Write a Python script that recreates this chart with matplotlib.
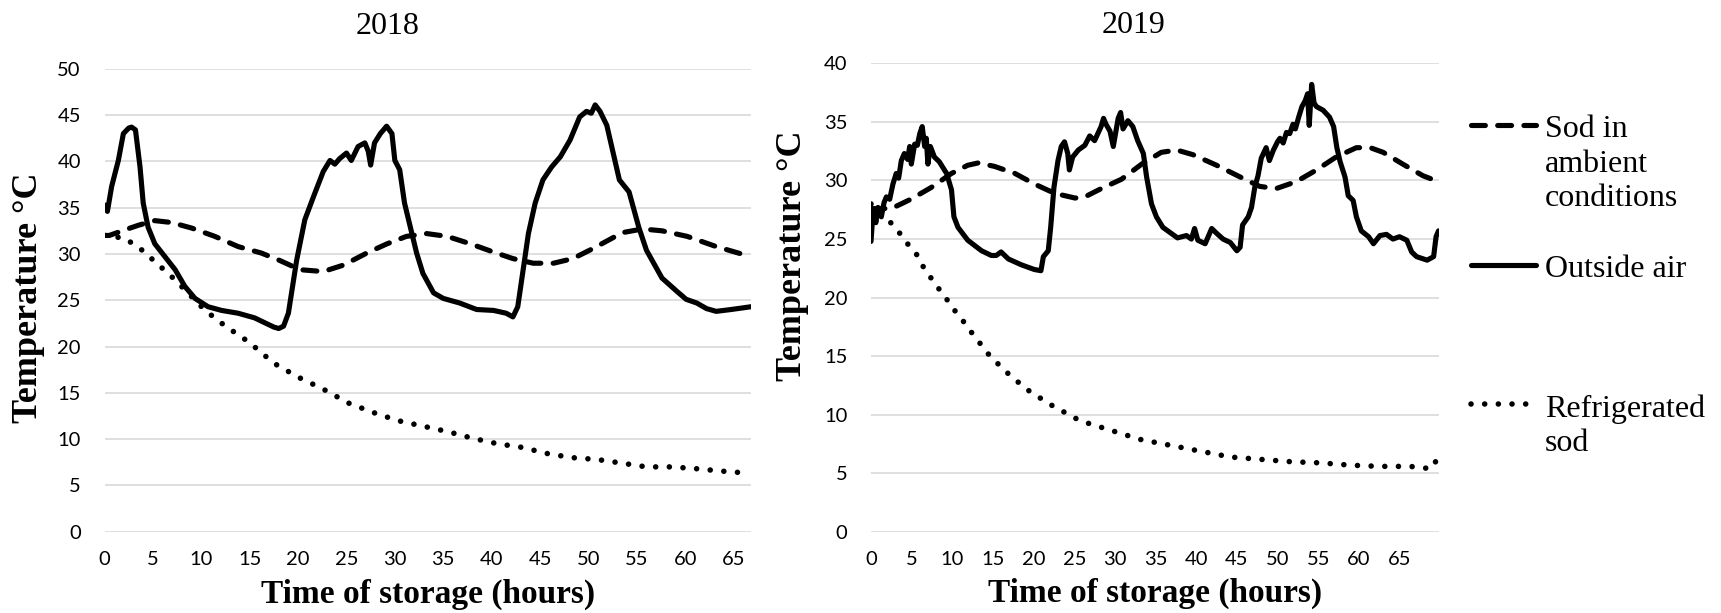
import matplotlib
matplotlib.use("Agg")
import matplotlib.pyplot as plt
from matplotlib.lines import Line2D
from matplotlib.font_manager import FontProperties

# ---- 2018 storage run ----
hours_2018_ambient = [0, 0.5, 2.1, 3.5, 5.2, 6.9, 9.0, 11.4, 13.8, 16.2, 18.1, 20.2, 22.6, 24.7, 27.1,
                      29.2, 31.2, 33.3, 35.4, 37.8, 40.2, 42.2, 44.3, 46.4, 48.4, 50.5, 53.5, 55.6,
                      57.6, 60.2, 63.2, 66.8]
temp_2018_ambient = [32.0, 32.0, 32.6, 33.1, 33.6, 33.4, 32.8, 31.9, 30.8, 30.1, 29.3, 28.3, 28.1, 28.8,
                     30.1, 31.1, 31.9, 32.2, 31.9, 31.1, 30.2, 29.5, 29.0, 29.0, 29.5, 30.6, 32.3, 32.7,
                     32.5, 31.9, 30.8, 29.7]

hours_2018_air = [0.0, 0.3, 0.74, 1.43, 1.95, 2.5, 2.8, 3.2, 3.67, 4.0, 4.5, 5.2, 6.25, 7.3, 8.3, 9.35,
                  10.7, 12.1, 13.8, 15.5, 16.5, 17.5, 18.0, 18.5, 19.0, 19.85, 20.7, 21.6, 22.6, 23.3,
                  23.8, 24.3, 25.0, 25.5, 26.2, 26.9, 27.25, 27.5, 27.9, 28.5, 29.15, 29.7, 30.0, 30.5,
                  31.0, 31.6, 32.25, 32.9, 34.0, 35.0, 36.7, 38.45, 40.2, 41.5, 42.2, 42.7, 43.3, 43.8,
                  44.5, 45.3, 46.2, 47.1, 48.1, 49.1, 49.8, 50.3, 50.7, 51.2, 51.9, 53.2, 54.2, 55.2,
                  56.0, 57.6, 59.1, 60.1, 61.2, 62.2, 63.2, 64.75, 66.8]
temp_2018_air = [35.3, 34.6, 37.3, 40.1, 43.0, 43.6, 43.7, 43.4, 39.4, 35.5, 32.9, 31.1, 29.7, 28.3,
                 26.5, 25.2, 24.3, 23.9, 23.6, 23.1, 22.6, 22.1, 21.95, 22.2, 23.6, 29.3, 33.7, 36.2,
                 38.9, 40.1, 39.7, 40.3, 40.9, 40.1, 41.6, 42.0, 41.1, 39.6, 42.0, 43.0, 43.8, 43.0,
                 40.1, 39.1, 35.5, 32.9, 30.1, 27.9, 25.8, 25.2, 24.7, 24.0, 23.9, 23.6, 23.2, 24.3,
                 28.6, 32.2, 35.5, 38.0, 39.4, 40.5, 42.3, 44.8, 45.4, 45.2, 46.1, 45.4, 43.9, 38.0,
                 36.7, 32.9, 30.4, 27.4, 26.0, 25.1, 24.7, 24.1, 23.8, 24.0, 24.3]

hours_2018_fridge = [0, 2.1, 3.9, 5.5, 7.2, 8.8, 10.4, 12.5, 14.9, 17.5, 20.0, 22.6, 25.2, 27.7, 30.3,
                     32.9, 35.5, 38.0, 40.6, 43.2, 45.7, 48.3, 50.9, 53.5, 56.0, 58.6, 61.2, 63.7, 66.8]
temp_2018_fridge = [32.0, 31.7, 30.4, 28.9, 27.3, 25.6, 23.9, 22.2, 20.5, 18.2, 16.7, 15.4, 13.9, 12.9,
                    12.0, 11.4, 10.8, 10.1, 9.5, 9.1, 8.45, 8.0, 7.8, 7.4, 7.0, 7.0, 6.8, 6.55, 6.3]

# ---- 2019 storage run ----
hours_2019_ambient = [0, 2.5, 4.9, 7.4, 9.9, 11.9, 13.2, 15.2, 17.7, 20.1, 22.6, 25.1, 26.3, 28.3, 30.8,
                      33.3, 35.7, 37.6, 39.6, 42.5, 45.4, 47.8, 49.8, 52.3, 54.8, 57.2, 59.7, 61.4,
                      63.0, 65.4, 67.9, 69.8]
temp_2019_ambient = [27.6, 27.6, 28.4, 29.4, 30.6, 31.3, 31.5, 31.2, 30.6, 29.7, 28.9, 28.5, 28.6, 29.3,
                     30.1, 31.4, 32.4, 32.6, 32.2, 31.3, 30.3, 29.5, 29.3, 29.9, 30.9, 32.0, 32.8, 32.8,
                     32.4, 31.4, 30.4, 29.9]

hours_2019_air = [0.0, 0.25, 0.6, 0.86, 1.27, 1.6, 1.89, 2.3, 2.7, 3.1, 3.4, 3.73, 4.1, 4.5, 4.76, 4.96,
                  5.37, 5.7, 6.0, 6.3, 6.6, 6.8, 7.0, 7.3, 7.8, 8.4, 9.3, 9.9, 10.2, 10.7, 11.9, 13.6,
                  14.8, 15.4, 16.0, 16.9, 18.5, 20.1, 20.9, 21.2, 21.8, 22.1, 22.5, 23.0, 23.4, 23.8,
                  24.2, 24.4, 24.8, 25.5, 26.3, 26.9, 27.5, 28.3, 28.6, 28.9, 29.4, 29.8, 30.4, 30.7,
                  31.0, 31.6, 32.2, 32.8, 33.5, 33.9, 34.5, 35.1, 35.9, 36.7, 37.7, 38.8, 39.4, 39.8,
                  40.2, 41.1, 41.9, 42.5, 43.3, 44.2, 45.0, 45.4, 45.7, 46.4, 46.8, 47.2, 47.6, 48.0,
                  48.6, 49.0, 49.5, 50.0, 50.3, 50.7, 51.1, 51.5, 51.9, 52.2, 52.6, 53.0, 53.4, 53.7,
                  53.9, 54.2, 54.5, 54.8, 55.6, 56.4, 56.9, 57.3, 57.7, 58.3, 58.7, 59.3, 59.7, 60.3,
                  61.2, 61.8, 62.6, 63.4, 64.2, 65.0, 65.9, 66.5, 67.1, 68.4, 69.2, 69.5, 69.8]
temp_2019_air = [24.8, 27.3, 26.4, 27.7, 26.9, 28.1, 28.6, 28.4, 29.7, 30.6, 30.2, 31.7, 32.3, 31.8,
                 32.9, 31.4, 33.1, 33.0, 34.0, 34.6, 32.9, 33.6, 31.4, 32.9, 32.0, 31.6, 30.6, 29.2,
                 26.9, 26.0, 24.9, 24.0, 23.6, 23.6, 23.9, 23.3, 22.8, 22.4, 22.3, 23.5, 24.0, 26.0,
                 29.4, 31.7, 32.9, 33.3, 32.3, 30.9, 32.0, 32.6, 33.0, 33.8, 33.4, 34.6, 35.3, 34.8,
                 34.2, 32.9, 35.3, 35.8, 34.4, 35.1, 34.6, 33.4, 32.3, 30.3, 28.0, 26.9, 26.0, 25.6,
                 25.1, 25.3, 25.0, 25.9, 24.9, 24.6, 25.9, 25.5, 25.0, 24.7, 24.0, 24.3, 26.2, 26.9,
                 27.7, 29.4, 30.4, 31.9, 32.8, 31.7, 32.6, 33.3, 33.6, 33.2, 34.1, 34.0, 34.8, 34.4,
                 35.4, 36.3, 36.8, 37.4, 34.7, 38.2, 36.6, 36.3, 36.0, 35.4, 34.6, 32.8, 31.6, 30.3,
                 28.7, 28.3, 26.9, 25.7, 25.2, 24.6, 25.3, 25.4, 25.0, 25.2, 24.9, 23.9, 23.5, 23.2,
                 23.5, 25.2, 25.7]

hours_2019_fridge = [0, 2.3, 3.9, 4.7, 5.6, 6.2, 6.9, 7.7, 8.4, 9.2, 9.9, 10.7, 12.4, 14.65, 16.9, 19.1,
                     22.0, 25.7, 29.4, 33.1, 36.8, 40.5, 44.2, 47.9, 51.6, 55.3, 59.0, 62.6, 66.3, 68.9,
                     69.8]
temp_2019_fridge = [28.0, 26.5, 25.2, 24.4, 23.7, 22.9, 22.1, 21.4, 20.7, 20.0, 19.2, 18.6, 17.0, 15.0,
                    13.5, 12.2, 10.9, 9.5, 8.7, 7.9, 7.4, 6.9, 6.4, 6.2, 6.0, 5.9, 5.7, 5.6, 5.6, 5.4,
                    6.4]

series_labels = ["Sod in\nambient\nconditions", "Outside air", "Refrigerated\nsod"]
x_ticks = list(range(0, 70, 5))

W, H = 1721, 613
SERIF = "Liberation Serif"
TICK_FONT = "Lato"
LW = 3.7

styles = [
    dict(color="black", lw=LW, linestyle=(0, (2.7, 2.4)), dash_capstyle="round"),
    dict(color="black", lw=LW, solid_joinstyle="round", solid_capstyle="round"),
    dict(color="black", lw=4.0, linestyle=(0, (0.01, 2.45)), dash_capstyle="round"),
]


def fig_rect(x0, y_top, x1, y_bottom):
    # pixel box -> figure fraction rect
    return [x0 / W, 1 - y_bottom / H, (x1 - x0) / W, (y_bottom - y_top) / H]


def draw_panel(ax, title, ymax, xmax, data, title_xy, ylabel_xy, xlabel_y):
    for (xs, ys), st in zip(data, styles):
        ax.plot(xs, ys, **st)
    ax.set_xlim(0, xmax)
    ax.set_ylim(0, ymax)
    ax.set_xticks(x_ticks)
    ax.set_yticks(range(0, ymax + 1, 5))
    ax.grid(axis="y", color="#d9d9d9", lw=1.2)
    ax.set_axisbelow(True)
    for s in ax.spines.values():
        s.set_visible(False)
    ax.tick_params(length=0, labelsize=14.5, colors="black")
    ax.tick_params(axis="y", pad=17)
    ax.tick_params(axis="x", pad=14)
    for lab in ax.get_xticklabels() + ax.get_yticklabels():
        lab.set_fontfamily(TICK_FONT)

    ax.set_title(title, fontproperties=FontProperties(family=SERIF, size=23),
                 x=title_xy[0], y=title_xy[1], va="center", pad=0)
    ax.set_ylabel("Temperature °C",
                  fontproperties=FontProperties(family=SERIF, weight="bold", size=26))
    ax.yaxis.label.set_va("center")
    ax.yaxis.set_label_coords(*ylabel_xy)
    ax.set_xlabel("Time of storage (hours)",
                  fontproperties=FontProperties(family=SERIF, weight="bold", size=24))
    ax.xaxis.label.set_va("center")
    ax.xaxis.set_label_coords(0.5, xlabel_y)


fig = plt.figure(figsize=(W / 100, H / 100), dpi=100)

ax1 = fig.add_axes(fig_rect(104.5, 68.8, 751, 531.7))
draw_panel(ax1, "2018", 50, 66.8,
           [(hours_2018_ambient, temp_2018_ambient),
            (hours_2018_air, temp_2018_air),
            (hours_2018_fridge, temp_2018_fridge)],
           title_xy=(0.4385, 1.092), ylabel_xy=(-0.117, 0.506), xlabel_y=-0.135)

ax2 = fig.add_axes(fig_rect(871, 63.3, 1438.5, 532))
draw_panel(ax2, "2019", 40, 69.8,
           [(hours_2019_ambient, temp_2019_ambient),
            (hours_2019_air, temp_2019_air),
            (hours_2019_fridge, temp_2019_fridge)],
           title_xy=(0.4634, 1.080), ylabel_xy=(-0.139, 0.589), xlabel_y=-0.132)

# legend drawn to the right, handle level with the first text line
legend_font = FontProperties(family=SERIF, size=23)
legend_rows = [125, 265, 404]
for label, st, y in zip(series_labels, styles, legend_rows):
    fig.add_artist(Line2D([1471 / W, 1536 / W], [1 - y / H, 1 - y / H],
                          transform=fig.transFigure, **st))
    fig.text(1545 / W, 1 - (y - 10) / H, label, fontproperties=legend_font,
             va="top", ha="left", linespacing=1.25)

fig.savefig("out.png", dpi=100)
